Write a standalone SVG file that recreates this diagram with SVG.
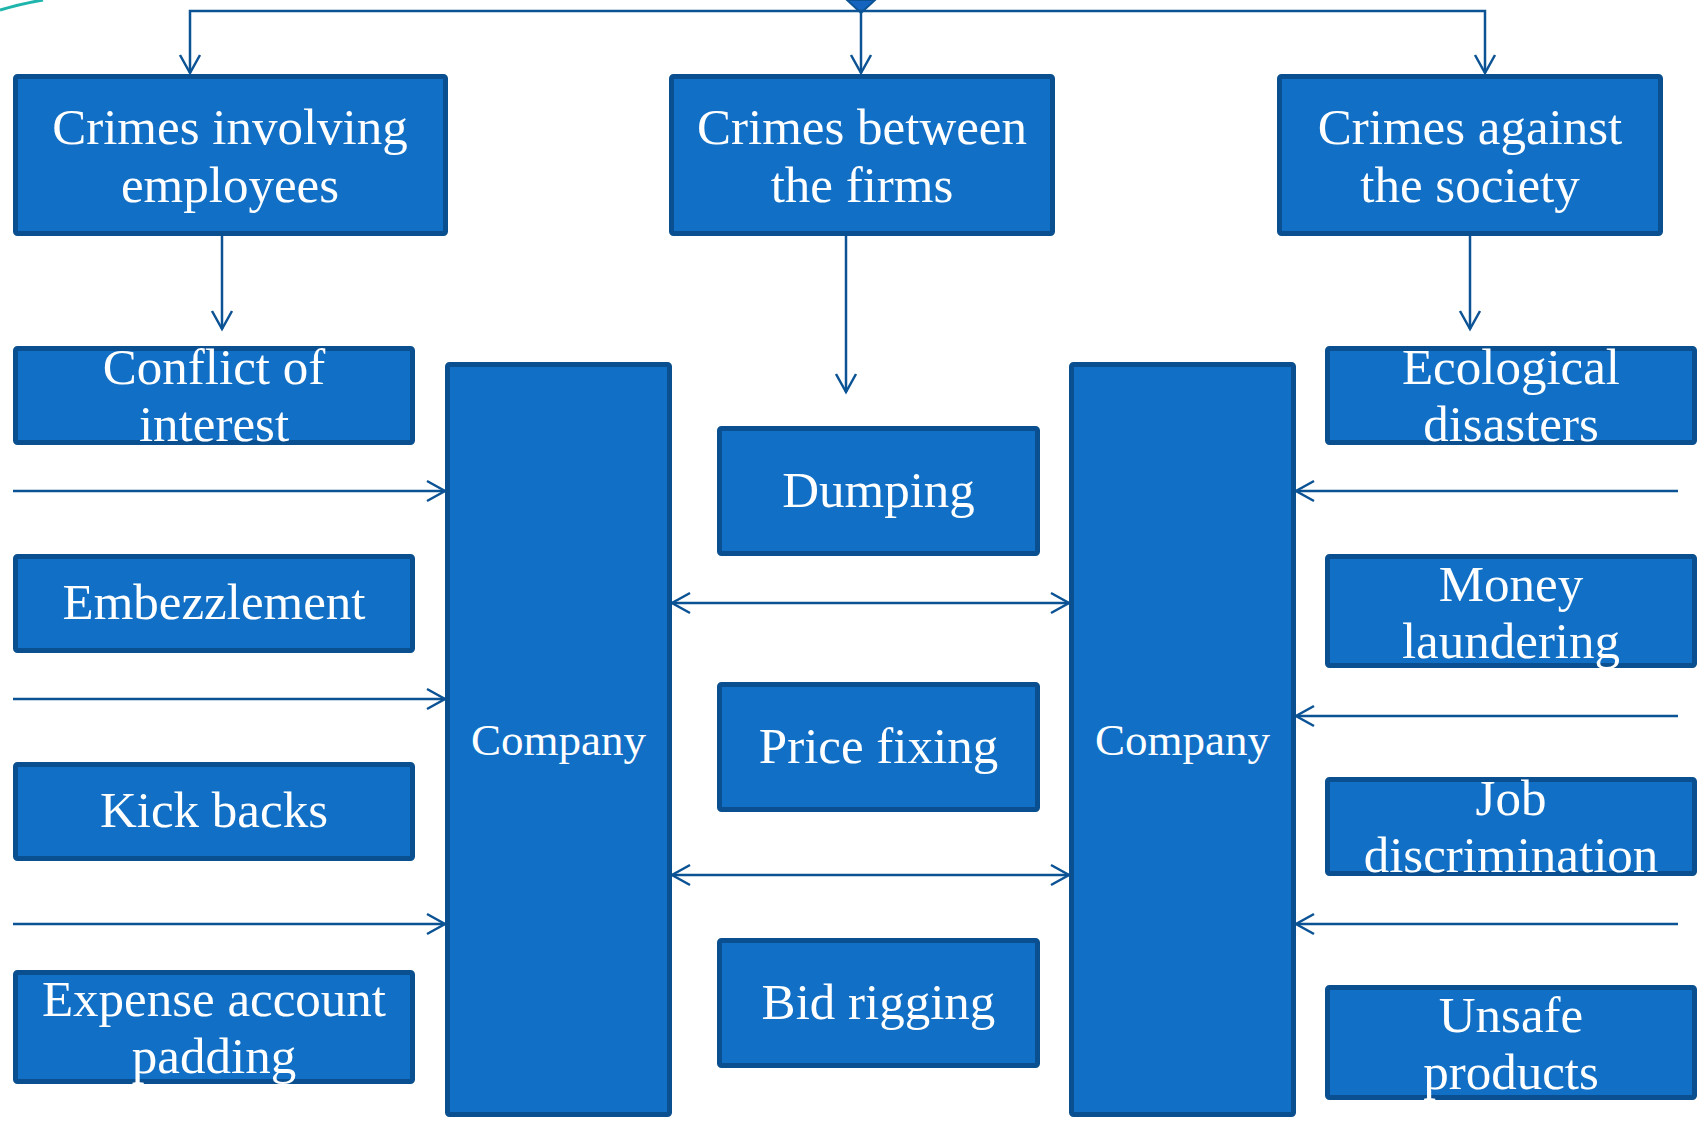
<svg xmlns="http://www.w3.org/2000/svg" width="1700" height="1124" viewBox="0 0 1700 1124">
<style>
.box{fill:#1170C6;stroke:#0A4F8F;stroke-width:5}
.t{font-family:"Liberation Serif","Times New Roman",serif;font-size:51px;fill:#ffffff;text-anchor:middle}
.c{font-size:45px}
.ln{fill:none;stroke:#0B5394;stroke-width:2.5}
</style>
<defs>
<marker id="arr" markerUnits="userSpaceOnUse" markerWidth="26" markerHeight="26" viewBox="-22 -13 26 26" refX="0" refY="0" orient="auto-start-reverse">
<path d="M-18,-10 L0,0 L-18,10" fill="none" stroke="#0B5394" stroke-width="2.5"/>
</marker>
</defs>
<rect width="1700" height="1124" fill="#ffffff"/>
<path d="M0,10 Q20,4 43,0" fill="none" stroke="#1FB5AC" stroke-width="3"/>
<g id="connectors">
<polygon points="847,0 875,0 861,13" fill="#1565C0" stroke="#0B5394" stroke-width="2"/>
<path class="ln" d="M861,11 H190 V73" marker-end="url(#arr)"/>
<path class="ln" d="M861,11 H1485 V73" marker-end="url(#arr)"/>
<path class="ln" d="M861,11 V73" marker-end="url(#arr)"/>
<path class="ln" d="M222,236 V329" marker-end="url(#arr)"/>
<path class="ln" d="M846,236 V392" marker-end="url(#arr)"/>
<path class="ln" d="M1470,236 V329" marker-end="url(#arr)"/>
<path class="ln" d="M13,491 H445" marker-end="url(#arr)"/>
<path class="ln" d="M13,699 H445" marker-end="url(#arr)"/>
<path class="ln" d="M13,924 H445" marker-end="url(#arr)"/>
<path class="ln" d="M1678,491 H1296" marker-end="url(#arr)"/>
<path class="ln" d="M1678,716 H1296" marker-end="url(#arr)"/>
<path class="ln" d="M1678,924 H1296" marker-end="url(#arr)"/>
<path class="ln" d="M672,603 H1069" marker-start="url(#arr)" marker-end="url(#arr)"/>
<path class="ln" d="M672,875 H1069" marker-start="url(#arr)" marker-end="url(#arr)"/>
</g>
<g id="crimes-employees"><rect class="box" x="15.5" y="76.5" width="430" height="157" rx="2"/><text class="t" x="230" y="144">Crimes involving</text><text class="t" x="230" y="202">employees</text></g>
<g id="crimes-firms"><rect class="box" x="671.5" y="76.5" width="381" height="157" rx="2"/><text class="t" x="862" y="144">Crimes between</text><text class="t" x="862" y="202">the firms</text></g>
<g id="crimes-society"><rect class="box" x="1279.5" y="76.5" width="381" height="157" rx="2"/><text class="t" x="1470" y="144">Crimes against</text><text class="t" x="1470" y="202">the society</text></g>
<g id="conflict"><rect class="box" x="15.5" y="348.5" width="397" height="94" rx="2"/><text class="t" x="214" y="384">Conflict of</text><text class="t" x="214" y="441">interest</text></g>
<g id="embezzlement"><rect class="box" x="15.5" y="556.5" width="397" height="94" rx="2"/><text class="t" x="214" y="619">Embezzlement</text></g>
<g id="kickbacks"><rect class="box" x="15.5" y="764.5" width="397" height="94" rx="2"/><text class="t" x="214" y="827">Kick backs</text></g>
<g id="expense"><rect class="box" x="15.5" y="972.5" width="397" height="109" rx="2"/><text class="t" x="214" y="1016">Expense account</text><text class="t" x="214" y="1073">padding</text></g>
<g id="company-left"><rect class="box" x="447.5" y="364.5" width="222" height="750" rx="2"/><text class="t c" x="558.5" y="755">Company</text></g>
<g id="company-right"><rect class="box" x="1071.5" y="364.5" width="222" height="750" rx="2"/><text class="t c" x="1182.5" y="755">Company</text></g>
<g id="dumping"><rect class="box" x="719.5" y="428.5" width="318" height="125" rx="2"/><text class="t" x="878.5" y="507">Dumping</text></g>
<g id="pricefixing"><rect class="box" x="719.5" y="684.5" width="318" height="125" rx="2"/><text class="t" x="878.5" y="763">Price fixing</text></g>
<g id="bidrigging"><rect class="box" x="719.5" y="940.5" width="318" height="125" rx="2"/><text class="t" x="878.5" y="1019">Bid rigging</text></g>
<g id="ecological"><rect class="box" x="1327.5" y="348.5" width="367" height="94" rx="2"/><text class="t" x="1511" y="384">Ecological</text><text class="t" x="1511" y="441">disasters</text></g>
<g id="money"><rect class="box" x="1327.5" y="556.5" width="367" height="109" rx="2"/><text class="t" x="1511" y="601">Money</text><text class="t" x="1511" y="658">laundering</text></g>
<g id="job"><rect class="box" x="1327.5" y="779.5" width="367" height="94" rx="2"/><text class="t" x="1511" y="815">Job</text><text class="t" x="1511" y="872">discrimination</text></g>
<g id="unsafe"><rect class="box" x="1327.5" y="987.5" width="367" height="110" rx="2"/><text class="t" x="1511" y="1032">Unsafe</text><text class="t" x="1511" y="1089">products</text></g>
</svg>
